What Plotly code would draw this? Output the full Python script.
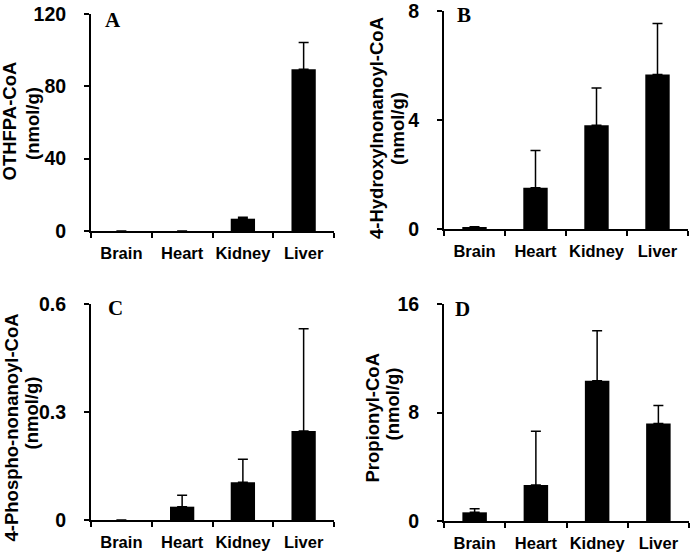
import plotly.graph_objects as go

W, H = 693, 552

tissues = ["Brain", "Heart", "Kidney", "Liver"]

othfpa_mean = [0, 0, 6.8, 89.5]
othfpa_sd = [None, None, 0.8, 14.8]

hydroxy_mean = [0.05, 1.51, 3.81, 5.67]
hydroxy_sd = [0.03, 1.37, 1.36, 1.87]

phospho_mean = [0, 0.037, 0.105, 0.247]
phospho_sd = [None, 0.032, 0.064, 0.284]

propionyl_mean = [0.64, 2.66, 10.34, 7.19]
propionyl_sd = [0.27, 3.96, 3.69, 1.33]

y_ranges = [[0, 120], [0, 8], [0, 0.6], [0, 16]]
y_ticks = [[0, 40, 80, 120], [0, 4, 8], [0, 0.3, 0.6], [0, 8, 16]]
y_ticktext = [["0", "40", "80", "120"], ["0", "4", "8"], ["0", "0.3", "0.6"], ["0", "8", "16"]]
panel_letters = ["A", "B", "C", "D"]
title_line1 = ["OTHFPA-CoA", "4-Hydroxylnonanoyl-CoA", "4-Phospho-nonanoyl-CoA", "Propionyl-CoA"]
title_line2 = ["(nmol/g)", "(nmol/g)", "(nmol/g)", "(nmol/g)"]

series = [(othfpa_mean, othfpa_sd), (hydroxy_mean, hydroxy_sd),
          (phospho_mean, phospho_sd), (propionyl_mean, propionyl_sd)]

# pixel boxes of each plotting area: (left, right, top, bottom)
boxes = [(91, 334, 14, 231), (444, 688, 11, 229), (91, 334, 304, 520), (444, 689, 304, 521)]
letter_pos = [(113, 20), (464, 15), (115, 308), (462, 309)]
title1_pos = [(9.5, 121), (376, 128), (10.5, 428), (371.5, 418)]
title2_pos = [(32, 124), (397, 129), (30.5, 413), (391.5, 404)]

FONT = "Liberation Sans, Arial, sans-serif"

fig = go.Figure()
layout = dict(
    width=W, height=H, margin=dict(l=0, r=0, t=0, b=0),
    paper_bgcolor="white", plot_bgcolor="white", showlegend=False,
    bargap=0.6, annotations=[],
)

for i, ((mean, sd), box) in enumerate(zip(series, boxes)):
    n = i + 1
    xa = "x" if n == 1 else f"x{n}"
    ya = "y" if n == 1 else f"y{n}"
    fig.add_trace(go.Bar(
        x=tissues, y=mean, xaxis=xa, yaxis=ya,
        marker=dict(color="black", line=dict(width=0)),
        error_y=dict(type="data", symmetric=False, array=sd,
                     arrayminus=[0] * len(sd), color="black",
                     thickness=1.5, width=5),
    ))
    l, r, t, b = box
    xkey = "xaxis" if n == 1 else f"xaxis{n}"
    ykey = "yaxis" if n == 1 else f"yaxis{n}"
    layout[xkey] = dict(
        domain=[l / W, r / W], anchor=ya, type="category",
        categoryorder="array", categoryarray=tissues, range=[-0.5, 3.5],
        tickson="boundaries", ticks="outside", ticklen=5, tickwidth=2,
        tickcolor="black", showline=True, linewidth=2, linecolor="black",
        showgrid=False, zeroline=False, automargin=False, tickangle=0,
        tickfont=dict(family=FONT, size=16.5, color="black", weight="bold"),
        ticklabelstandoff=6, ticklabeloverflow="allow", fixedrange=True,
    )
    layout[ykey] = dict(
        domain=[1 - b / H, 1 - t / H], anchor=xa, range=y_ranges[i],
        tickmode="array", tickvals=y_ticks[i], ticktext=y_ticktext[i],
        ticks="outside", ticklen=5, tickwidth=2, tickcolor="black",
        showline=True, linewidth=2, linecolor="black",
        showgrid=False, zeroline=False, automargin=False,
        tickfont=dict(family=FONT, size=19.5, color="black", weight="bold"),
        ticklabelstandoff=14, ticklabeloverflow="allow", fixedrange=True,
    )
    lx, ly = letter_pos[i]
    layout["annotations"].append(dict(
        text=panel_letters[i], x=lx / W, y=1 - ly / H, xref="paper", yref="paper",
        xanchor="center", yanchor="middle", showarrow=False,
        font=dict(family="Liberation Serif, Times New Roman, serif", size=21,
                  color="black", weight="bold"),
    ))
    for txt, (px, py) in ((title_line1[i], title1_pos[i]), (title_line2[i], title2_pos[i])):
        layout["annotations"].append(dict(
            text=txt, x=px / W, y=1 - py / H, xref="paper", yref="paper",
            xanchor="center", yanchor="middle", showarrow=False, textangle=-90,
            font=dict(family=FONT, size=18.5, color="black", weight="bold"),
        ))

fig.update_layout(**layout)
fig.write_html("out.html", config={"displayModeBar": False},
               post_script="document.body.style.margin='0';document.body.style.overflow='hidden';")
